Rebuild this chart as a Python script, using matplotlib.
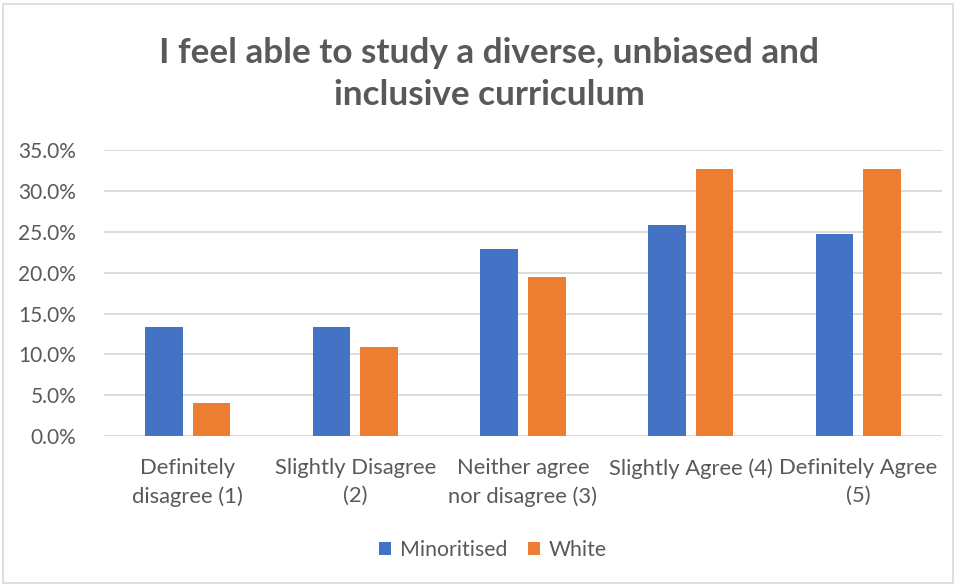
import numpy as np
import matplotlib
matplotlib.use('Agg')
from matplotlib import pyplot as plt
from matplotlib.patches import Rectangle
from matplotlib.ticker import FuncFormatter

# survey responses, share of each group
categories = ['Definitely\ndisagree (1)', 'Slightly Disagree\n(2)', 'Neither agree\nnor disagree (3)',
              'Slightly Agree (4)', 'Definitely Agree\n(5)']
minoritised = [13.3, 13.3, 22.9, 25.8, 24.7]
white = [4.0, 10.9, 19.5, 32.7, 32.7]
series_names = ['Minoritised', 'White']

BLUE = '#4472C4'
ORANGE = '#ED7D31'
TEXT = '#595959'
GRID = '#D9D9D9'

plt.rcParams['font.family'] = ['Lato', 'DejaVu Sans']

fig = plt.figure(figsize=(9.57, 5.86), dpi=100)
ax = fig.add_axes([104 / 957, 1 - 436 / 586, 838 / 957, (436 - 150.3) / 586])

x = np.arange(len(categories))
width = 0.224
ax.bar(x - 0.142, minoritised, width, color=BLUE, label=series_names[0], zorder=3)
ax.bar(x + 0.142, white, width, color=ORANGE, label=series_names[1], zorder=3)

ax.set_xlim(-0.5, len(categories) - 0.5)
ax.set_ylim(0, 35)
ax.set_yticks(np.arange(0, 35.1, 5))
ax.yaxis.set_major_formatter(FuncFormatter(lambda v, p: '{:.1f}%'.format(v)))
ax.set_xticks(x)
ax.set_xticklabels(categories, linespacing=1.5, fontsize=15.8)
ax.tick_params(axis='both', length=0, colors=TEXT)
ax.tick_params(axis='y', labelsize=15, pad=20)
ax.tick_params(axis='x', pad=16)
ax.grid(axis='y', color=GRID, linewidth=1.3, zorder=0)
for s in ax.spines.values():
    s.set_visible(False)

fig.text(489 / 957, 1 - 74 / 586, 'I feel able to study a diverse, unbiased and\ninclusive curriculum',
         ha='center', va='center', fontsize=25.3, fontweight='bold', color=TEXT, linespacing=1.4)

leg = fig.legend(loc='center', bbox_to_anchor=(493 / 957, 1 - 550 / 586), ncol=2, frameon=False,
                 fontsize=15.3, handlelength=0.55, handleheight=0.55, handletextpad=0.4,
                 columnspacing=1.0, labelcolor=TEXT)

# chart area border
fig.patches.append(Rectangle((3 / 957, 3 / 586), 950 / 957, 579 / 586, transform=fig.transFigure,
                             fill=False, edgecolor=GRID, linewidth=1.2))

fig.savefig('out.png', dpi=100, facecolor='white')
